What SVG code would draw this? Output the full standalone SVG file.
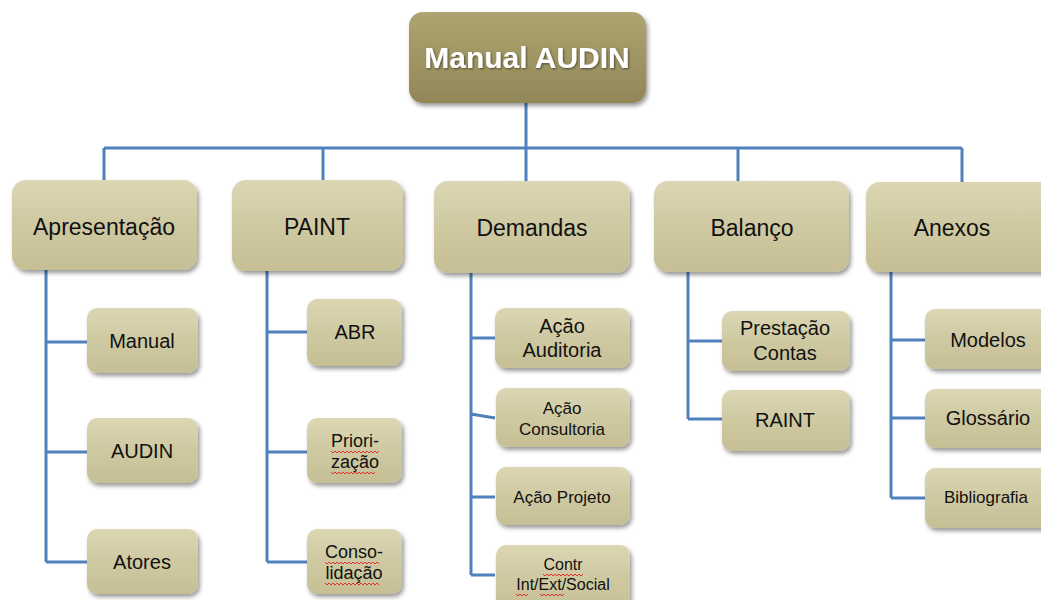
<svg xmlns="http://www.w3.org/2000/svg" width="1041" height="600" viewBox="0 0 1041 600">
<style>
.conn{stroke:#4F81BD;stroke-width:3;fill:none}
.n1{fill:url(#g1);filter:url(#sh)}
.n2{fill:url(#g1);filter:url(#sh)}
.top{fill:url(#g0);filter:url(#sh)}
text{font-family:"Liberation Sans",Arial,sans-serif;fill:#111;text-anchor:middle}
.t0{font-size:30px;font-weight:bold;fill:#fff}
.t1{font-size:23px}
.t2{font-size:20px}
.t3{font-size:18px}
.t4{font-size:17px}
.t5{font-size:16px}
.sq{stroke:#E03030;stroke-width:1;fill:none}
</style>
<defs>
<linearGradient id="g1" x1="0" y1="0" x2="0" y2="1">
<stop offset="0" stop-color="#DCD6B4"/>
<stop offset="0.5" stop-color="#CFC9A2"/>
<stop offset="1" stop-color="#C6BF95"/>
</linearGradient>
<linearGradient id="g0" x1="0" y1="0" x2="0" y2="1">
<stop offset="0" stop-color="#ADA472"/>
<stop offset="0.5" stop-color="#A09664"/>
<stop offset="1" stop-color="#918656"/>
</linearGradient>
<filter id="sh" x="-10%" y="-10%" width="130%" height="140%">
<feDropShadow dx="2" dy="3" stdDeviation="2" flood-color="#000" flood-opacity="0.4"/>
</filter>
<filter id="ts" x="-5%" y="-20%" width="110%" height="150%">
<feDropShadow dx="1" dy="1" stdDeviation="1" flood-color="#000" flood-opacity="0.5"/>
</filter>
</defs>
<rect width="1041" height="600" fill="#fff"/>
<g id="connectors">
<path class="conn" d="M526 103V148M104 148H962M104 148V180M323 148V180M526 148V181M738 148V181M962 148V182"/>
<path class="conn" d="M46 270V562M46 342H87M46 452H87M46 562H87"/>
<path class="conn" d="M267 271V562M267 332H307M267 452H307M267 562H307"/>
<path class="conn" d="M471 273V575M471 338H495M471 414L495 418M471 497H495M471 575H495"/>
<path class="conn" d="M688 272V419M688 341H722M688 419H722"/>
<path class="conn" d="M891 272V498M891 340H925M891 418H925M891 498H925"/>
</g>
<g id="n-manual-audin"><rect class="top" x="409" y="12" width="237" height="91" rx="14"/><text class="t0" x="527" y="68" filter="url(#ts)">Manual AUDIN</text></g>
<g id="n-apresentacao"><rect class="n1" x="12" y="180" width="185" height="90" rx="14"/><text class="t1" x="104" y="235">Apresentação</text></g>
<g id="n-paint"><rect class="n1" x="232" y="180" width="171" height="91" rx="14"/><text class="t1" x="317" y="235">PAINT</text></g>
<g id="n-demandas"><rect class="n1" x="434" y="181" width="196" height="92" rx="14"/><text class="t1" x="532" y="236">Demandas</text></g>
<g id="n-balanco"><rect class="n1" x="654" y="181" width="195" height="91" rx="14"/><text class="t1" x="752" y="236">Balanço</text></g>
<g id="n-anexos"><rect class="n1" x="866" y="182" width="195" height="90" rx="14"/><text class="t1" x="952" y="236">Anexos</text></g>
<g id="n-manual"><rect class="n2" x="87" y="308" width="111" height="65" rx="10"/><text class="t2" x="142" y="348">Manual</text></g>
<g id="n-audin"><rect class="n2" x="87" y="418" width="111" height="65" rx="10"/><text class="t2" x="142" y="458">AUDIN</text></g>
<g id="n-atores"><rect class="n2" x="87" y="529" width="111" height="65" rx="10"/><text class="t2" x="142" y="569">Atores</text></g>
<g id="n-abr"><rect class="n2" x="307" y="299" width="95" height="67" rx="10"/><text class="t2" x="355" y="339">ABR</text></g>
<g id="n-priorizacao"><rect class="n2" x="307" y="418" width="95" height="65" rx="10"/><text class="t3" x="355" y="447">Priori-</text><text class="t3" x="355" y="468">zação</text>
<path class="sq" d="M331 451l2 2 2-2 2 2 2-2 2 2 2-2 2 2 2-2 2 2 2-2 2 2 2-2 2 2 2-2 2 2 2-2 2 2 2-2 2 2 2-2 2 2 2-2 2 2 2-2"/>
<path class="sq" d="M331 472l2 2 2-2 2 2 2-2 2 2 2-2 2 2 2-2 2 2 2-2 2 2 2-2 2 2 2-2 2 2 2-2 2 2 2-2 2 2 2-2 2 2 2-2"/></g>
<g id="n-consolidacao"><rect class="n2" x="307" y="529" width="95" height="65" rx="10"/><text class="t3" x="354" y="558">Conso-</text><text class="t3" x="354" y="579">lidação</text>
<path class="sq" d="M325 562l2 2 2-2 2 2 2-2 2 2 2-2 2 2 2-2 2 2 2-2 2 2 2-2 2 2 2-2 2 2 2-2 2 2 2-2 2 2 2-2 2 2 2-2 2 2 2-2 2 2 2-2 2 2"/>
<path class="sq" d="M325 583l2 2 2-2 2 2 2-2 2 2 2-2 2 2 2-2 2 2 2-2 2 2 2-2 2 2 2-2 2 2 2-2 2 2 2-2 2 2 2-2 2 2 2-2 2 2 2-2 2 2 2-2 2 2"/></g>
<g id="n-acao-auditoria"><rect class="n2" x="495" y="308" width="135" height="60" rx="10"/><text class="t2" x="562" y="333">Ação</text><text class="t2" x="562" y="357">Auditoria</text></g>
<g id="n-acao-consultoria"><rect class="n2" x="496" y="388" width="134" height="59" rx="10"/><text class="t4" x="562" y="414">Ação</text><text class="t4" x="562" y="435">Consultoria</text></g>
<g id="n-acao-projeto"><rect class="n2" x="496" y="467" width="134" height="58" rx="10"/><text class="t4" x="562" y="503">Ação Projeto</text></g>
<g id="n-contr"><rect class="n2" x="496" y="545" width="134" height="65" rx="10"/><text class="t5" x="563" y="570">Contr</text><text class="t5" x="563" y="590">Int/Ext/Social</text>
<path class="sq" d="M543 574l2 2 2-2 2 2 2-2 2 2 2-2 2 2 2-2 2 2 2-2 2 2 2-2 2 2 2-2 2 2 2-2 2 2 2-2 2 2 2-2"/>
<path class="sq" d="M516 594l2 2 2-2 2 2 2-2 2 2 2-2"/>
<path class="sq" d="M540 594l2 2 2-2 2 2 2-2 2 2 2-2 2 2 2-2 2 2 2-2 2 2 2-2"/></g>
<g id="n-prestacao"><rect class="n2" x="722" y="311" width="128" height="60" rx="10"/><text class="t2" x="785" y="335">Prestação</text><text class="t2" x="785" y="360">Contas</text></g>
<g id="n-raint"><rect class="n2" x="722" y="390" width="128" height="61" rx="10"/><text class="t2" x="785" y="427">RAINT</text></g>
<g id="n-modelos"><rect class="n2" x="925" y="309" width="130" height="60" rx="10"/><text class="t2" x="988" y="347">Modelos</text></g>
<g id="n-glossario"><rect class="n2" x="925" y="389" width="130" height="59" rx="10"/><text class="t2" x="988" y="425">Glossário</text></g>
<g id="n-bibliografia"><rect class="n2" x="925" y="468" width="130" height="60" rx="10"/><text class="t4" x="986" y="503">Bibliografia</text></g>
</svg>
